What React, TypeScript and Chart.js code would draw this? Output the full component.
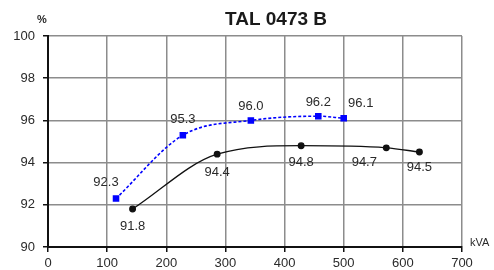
import React, { useEffect, useRef } from "react";
import { Chart, registerables } from "chart.js";

Chart.register(...registerables);

const TITLE = "TAL 0473 B";
const X_TICKS = [0, 100, 200, 300, 400, 500, 600, 700];
const Y_TICKS = [90, 92, 94, 96, 98, 100];

const blueKva = [115, 228, 343, 457, 500];
const blueEff = [92.3, 95.3, 96.0, 96.2, 96.1];
const blackKva = [143, 286, 428, 572, 628];
const blackEff = [91.8, 94.4, 94.8, 94.7, 94.5];

// label placement relative to each point (px)
const blueLabelShift = [[-10, -16], [0, -16], [0, -14], [0, -14], [17, -15]];
const blackLabelShift = [[0, 17], [0, 18], [0, 17], [-22, 15], [0, 15]];

const FONT = "'Liberation Sans', Arial, sans-serif";
const TEXT = "#2a2a2a";

const labelsPlugin = {
  id: "customLabels",
  afterDatasetsDraw(chart: any) {
    const ctx = chart.ctx;
    ctx.save();
    ctx.fillStyle = TEXT;
    ctx.textAlign = "center";
    ctx.textBaseline = "middle";
    ctx.font = `13px ${FONT}`;
    const shifts = [blueLabelShift, blackLabelShift];
    const vals = [blueEff, blackEff];
    chart.data.datasets.forEach((ds: any, di: number) => {
      const meta = chart.getDatasetMeta(di);
      meta.data.forEach((pt: any, i: number) => {
        const [dx, dy] = shifts[di][i];
        ctx.fillText(vals[di][i].toFixed(1), pt.x + dx, pt.y + dy);
      });
    });
    // title
    ctx.font = `bold 19px ${FONT}`;
    ctx.fillStyle = "#1a1a1a";
    ctx.fillText(TITLE, 276, 20);
    // units
    ctx.font = `bold 11px ${FONT}`;
    ctx.fillStyle = TEXT;
    ctx.fillText("%", 42, 20);
    ctx.textAlign = "left";
    ctx.font = `11px ${FONT}`;
    ctx.fillText("kVA", 470, 243);
    ctx.restore();
  },
};

export default function App() {
  const ref = useRef<HTMLCanvasElement | null>(null);
  useEffect(() => {
    if (!ref.current) return;
    const chart = new Chart(ref.current, {
      type: "line",
      data: {
        datasets: [
          {
            data: blueKva.map((x, i) => ({ x, y: blueEff[i] })),
            borderColor: "#0000ff",
            backgroundColor: "#0000ff",
            borderWidth: 1.6,
            borderDash: [3, 2],
            pointStyle: "rect",
            pointRadius: 3.5,
            cubicInterpolationMode: "monotone",
            fill: false,
          },
          {
            data: blackKva.map((x, i) => ({ x, y: blackEff[i] })),
            borderColor: "#111111",
            backgroundColor: "#111111",
            borderWidth: 1.3,
            pointStyle: "circle",
            pointRadius: 2.8,
            cubicInterpolationMode: "monotone",
            fill: false,
          },
        ],
      },
      options: {
        responsive: false,
        animation: false,
        layout: { padding: { top: 36, right: 32, left: 0, bottom: 0 } },
        plugins: {
          legend: { display: false },
          title: { display: false },
          tooltip: { enabled: false },
        },
        scales: {
          x: {
            type: "linear",
            min: 0,
            max: 700,
            afterBuildTicks: (axis: any) => {
              axis.ticks = X_TICKS.map((v) => ({ value: v }));
            },
            afterFit: (axis: any) => {
              axis.height = 23;
            },
            ticks: {
              color: TEXT,
              font: { family: FONT, size: 13 },
              padding: 4,
              maxRotation: 0,
            },
            grid: {
              color: "#8c8c8c",
              lineWidth: 1.5,
              tickColor: "#111",
              tickLength: 5,
              drawTicks: true,
            },
            border: { color: "#111", width: 2 },
          },
          y: {
            type: "linear",
            min: 90,
            max: 100,
            afterBuildTicks: (axis: any) => {
              axis.ticks = Y_TICKS.map((v) => ({ value: v }));
            },
            afterFit: (axis: any) => {
              axis.width = 48;
            },
            ticks: {
              color: TEXT,
              font: { family: FONT, size: 13 },
              padding: 8,
            },
            grid: {
              color: "#8c8c8c",
              lineWidth: 1.5,
              tickColor: "#111",
              tickLength: 5,
            },
            border: { color: "#111", width: 2 },
          },
        },
      },
      plugins: [labelsPlugin],
    } as any);
    return () => chart.destroy();
  }, []);
  return (
    <div style={{ position: "fixed", left: 0, top: 0, width: 494, height: 270, background: "#fff" }}>
      <canvas ref={ref} width={494} height={270} style={{ display: "block" }} />
    </div>
  );
}
